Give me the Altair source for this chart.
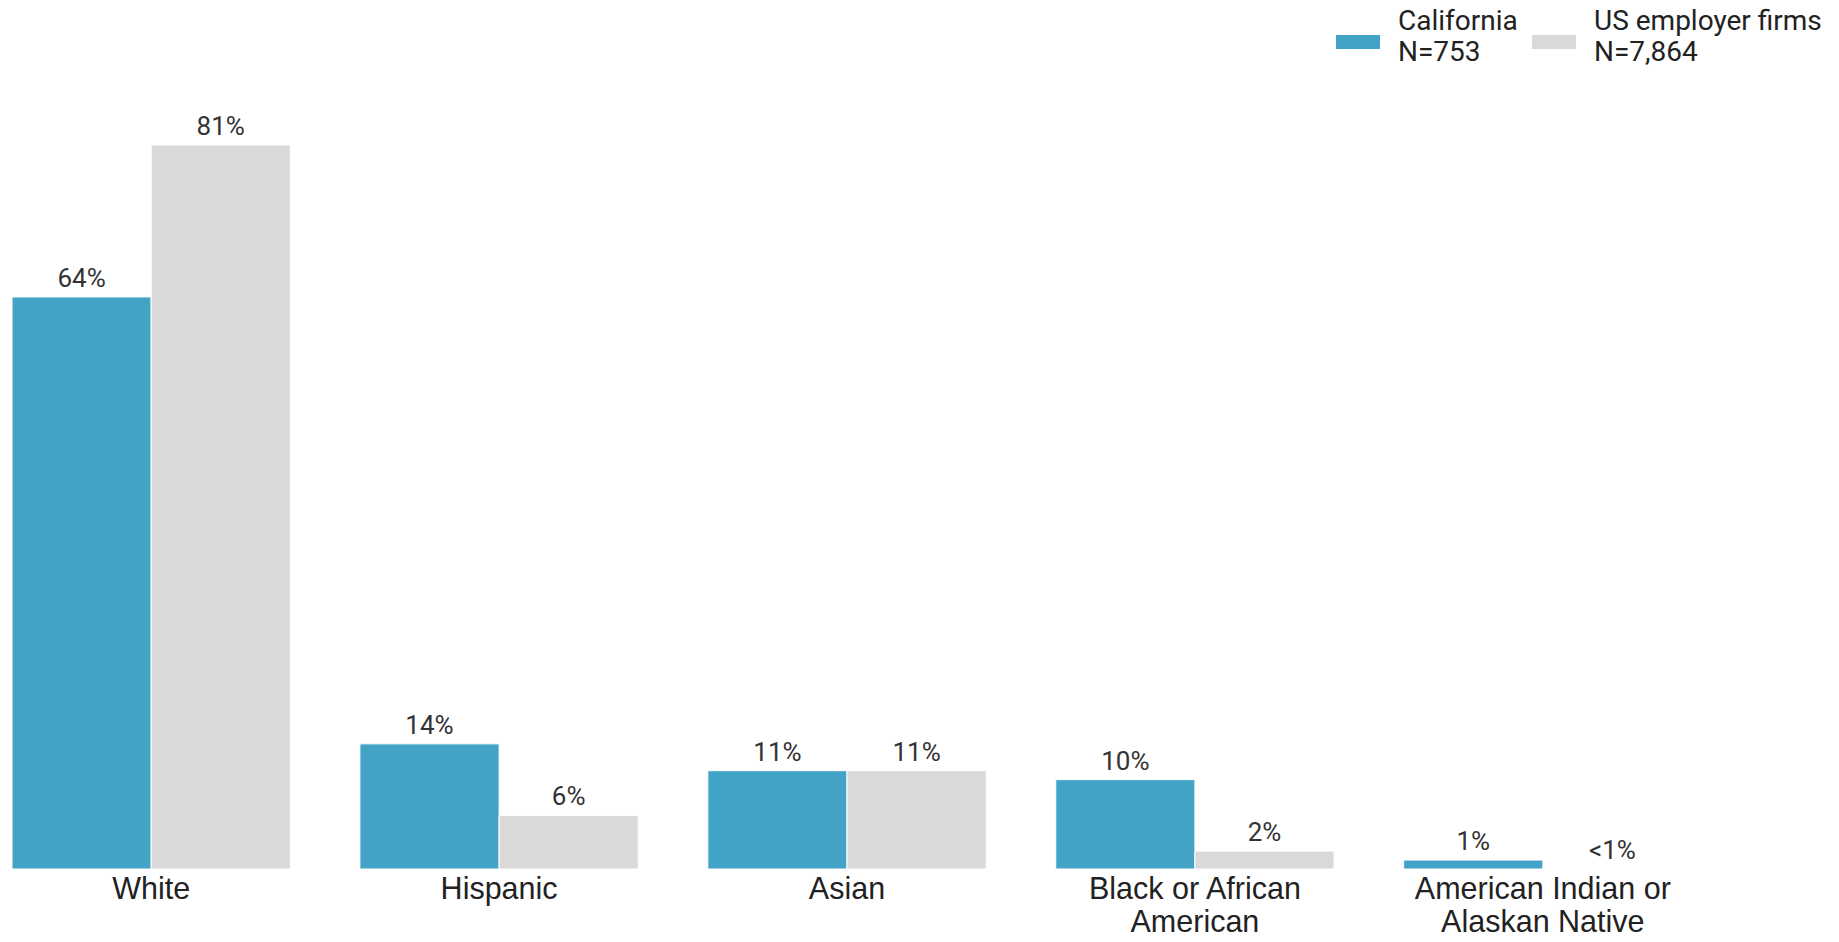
import altair as alt
import pandas as pd

categories = ["White", "Hispanic", "Asian", "Black or African American", "American Indian or Alaskan Native"]
wrapped = [["White"], ["Hispanic"], ["Asian"], ["Black or African", "American"], ["American Indian or", "Alaskan Native"]]
series = ["California", "US employer firms"]
series_legend = [["California", "N=753"], ["US employer firms", "N=7,864"]]
ca_values = [64, 14, 11, 10, 1]
us_values = [81, 6, 11, 2, 0]
ca_labels = ["64%", "14%", "11%", "10%", "1%"]
us_labels = ["81%", "6%", "11%", "2%", "<1%"]
colors = ["#42A3C7", "#D9D9D9"]

rows = []
for i, c in enumerate(categories):
    rows.append({"cat": c, "series": series[0], "value": ca_values[i], "label": ca_labels[i]})
    rows.append({"cat": c, "series": series[1], "value": us_values[i], "label": us_labels[i]})
df = pd.DataFrame(rows)

def arr(lst):
    return "[" + ",".join("'" + s + "'" for s in lst) + "]"

x_expr = ""
for c, w in zip(categories, wrapped):
    x_expr += f"datum.label == '{c}' ? {arr(w)} : "
x_expr += "datum.label"

leg_expr = ""
for s, w in zip(series, series_legend):
    leg_expr += f"datum.label == '{s}' ? {arr(w)} : "
leg_expr += "datum.label"

x_enc = alt.X(
    "cat:N",
    sort=categories,
    title=None,
    scale=alt.Scale(paddingInner=0.2, paddingOuter=0),
    axis=alt.Axis(
        domain=False, ticks=False, labelAngle=0, labelFont="Liberation Sans",
        labelFontSize=30.5, labelColor="#222222", labelPadding=5, labelLineHeight=33,
        labelExpr=x_expr, labelLimit=400,
    ),
)
y_enc = alt.Y("value:Q", title=None, scale=alt.Scale(domain=[0, 81], nice=False, zero=True), axis=None)
xoff = alt.XOffset("series:N", sort=series, scale=alt.Scale(paddingInner=0, paddingOuter=0))

base = alt.Chart(df)

bars = base.mark_bar(stroke="white", strokeWidth=1).encode(
    x=x_enc,
    xOffset=xoff,
    y=y_enc,
    color=alt.Color(
        "series:N",
        sort=series,
        scale=alt.Scale(domain=series, range=colors),
        legend=alt.Legend(
            title=None, orient="none", direction="horizontal",
            legendX=1324, legendY=-145,
            symbolType="M-1,0.59L1,0.59L1,1.23L-1,1.23Z", symbolSize=1936,
            symbolStrokeWidth=0,
            labelFont="Roboto", labelFontSize=28, labelColor="#222222",
            labelExpr=leg_expr, labelLimit=400,
            labelOffset=18, columnPadding=14, labelBaseline="middle",
        ),
    ),
)

text = base.mark_text(font="Roboto", fontSize=26, color="#333333", baseline="alphabetic", dy=-10).encode(
    x=alt.X("cat:N", sort=categories),
    xOffset=xoff,
    y=y_enc,
    text="label:N",
)

chart = alt.layer(bars, text).properties(
    width=1670,
    height=724,
    autosize=alt.AutoSizeParams(type="none"),
    padding={"left": 4, "top": 137, "right": 145, "bottom": 65},
).configure(view={"stroke": None}, style={"guide-label": {"lineHeight": 31}})

chart.save("out.html", embed_options={"renderer": "svg", "actions": False})
